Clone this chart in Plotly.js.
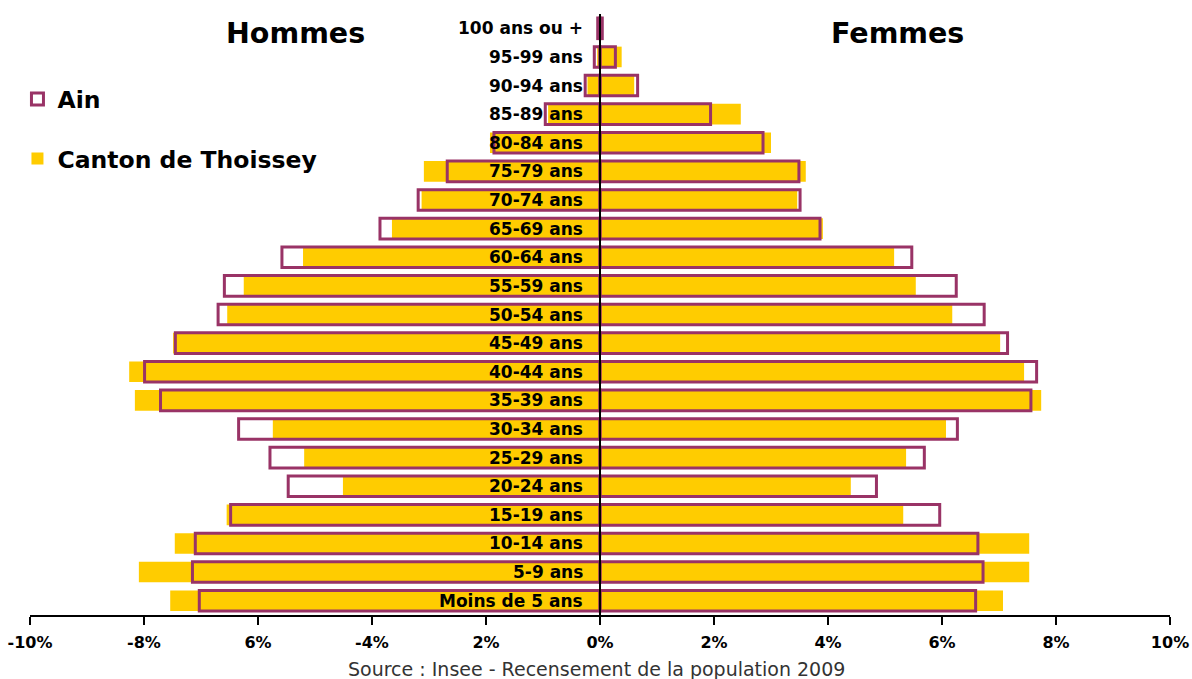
<!DOCTYPE html>
<html>
<head>
<meta charset="utf-8">
<script src="https://cdn.plot.ly/plotly-3.0.1.min.js"></script>
<style>html,body{margin:0;padding:0;background:#fff;}#chart{width:1192px;height:679px;}</style>
</head>
<body>
<div id="chart"></div>
<script>
const categories = ["Moins de 5 ans","5-9 ans","10-14 ans","15-19 ans","20-24 ans","25-29 ans","30-34 ans","35-39 ans","40-44 ans","45-49 ans","50-54 ans","55-59 ans","60-64 ans","65-69 ans","70-74 ans","75-79 ans","80-84 ans","85-89 ans","90-94 ans","95-99 ans","100 ans ou +"];
const ainHommes    = [7.03, 7.15, 7.10, 6.48, 5.47, 5.79, 6.34, 7.71, 7.99, 7.45, 6.70, 6.59, 5.58, 3.86, 3.19, 2.68, 1.86, 0.96, 0.26, 0.10, 0.04];
const cantonHommes = [7.54, 8.09, 7.46, 6.55, 4.51, 5.19, 5.74, 8.16, 8.26, 7.49, 6.54, 6.25, 5.21, 3.65, 3.13, 3.09, 1.93, 0.91, 0.22, 0.05, 0];
const ainFemmes    = [6.59, 6.72, 6.63, 5.96, 4.85, 5.69, 6.27, 7.56, 7.66, 7.15, 6.74, 6.25, 5.47, 3.86, 3.51, 3.49, 2.86, 1.94, 0.66, 0.27, 0.04];
const cantonFemmes = [7.07, 7.53, 7.53, 5.32, 4.40, 5.37, 6.07, 7.74, 7.44, 7.02, 6.18, 5.54, 5.16, 3.91, 3.46, 3.61, 3.00, 2.47, 0.60, 0.38, 0];
const tickValues = [-10, -8, -6, -4, -2, 0, 2, 4, 6, 8, 10];
const tickLabels = ["-10%", "-8%", "6%", "-4%", "2%", "0%", "2%", "4%", "6%", "8%", "10%"];
const seriesNames = ["Ain", "Canton de Thoissey"];
const sideTitles = ["Hommes", "Femmes"];
const sourceText = "Source : Insee - Recensement de la population 2009";

const YELLOW = "#FFCC00";
const PURPLE = "#993366";
const BW = 0.72;

const neg = a => a.map(v => -v);

const traces = [
  {type:"bar", orientation:"h", y:categories, x:neg(cantonHommes), name:seriesNames[1], legendgroup:"c", legendrank:2,
   width:BW, marker:{color:YELLOW, line:{width:0}}, hoverinfo:"skip"},
  {type:"bar", orientation:"h", y:categories, x:cantonFemmes, name:seriesNames[1], legendgroup:"c", showlegend:false,
   width:BW, marker:{color:YELLOW, line:{width:0}}, hoverinfo:"skip"},
  {type:"bar", orientation:"h", y:categories, x:neg(ainHommes), name:seriesNames[0], legendgroup:"a", legendrank:1,
   width:BW, marker:{color:"rgba(0,0,0,0)", line:{width:3, color:PURPLE}}, hoverinfo:"skip"},
  {type:"bar", orientation:"h", y:categories, x:ainFemmes, name:seriesNames[0], legendgroup:"a", showlegend:false,
   width:BW, marker:{color:"rgba(0,0,0,0)", line:{width:3, color:PURPLE}}, hoverinfo:"skip"}
];

const labelFont = {family:"DejaVu Sans", size:17, color:"#000", weight:"bold"};
const annotations = categories.map(c => ({
  x:0, y:c, xref:"x", yref:"y", text:c, showarrow:false, xanchor:"right", yanchor:"middle",
  xshift:-15.5, font:labelFont
}));
annotations.push({x:0.233, y:0.968, xref:"paper", yref:"paper", text:sideTitles[0], showarrow:false,
  xanchor:"center", yanchor:"middle", font:{family:"DejaVu Sans", size:28.5, color:"#000", weight:"bold"}});
annotations.push({x:0.761, y:0.968, xref:"paper", yref:"paper", text:sideTitles[1], showarrow:false,
  xanchor:"center", yanchor:"middle", font:{family:"DejaVu Sans", size:28.5, color:"#000", weight:"bold"}});
annotations.push({x:0.497, y:-0.09, xref:"paper", yref:"paper", text:sourceText, showarrow:false,
  xanchor:"center", yanchor:"middle", font:{family:"DejaVu Sans", size:19, color:"#333"}});

const layout = {
  width:1192, height:679,
  margin:{l:30, r:22, t:14, b:64, autoexpand:false},
  paper_bgcolor:"#fff", plot_bgcolor:"#fff",
  barmode:"overlay",
  showlegend:true,
  legend:{x:-0.011, xanchor:"left", y:0.895, yanchor:"top", bgcolor:"rgba(0,0,0,0)",
    font:{family:"DejaVu Sans", size:23.5, color:"#000", weight:"bold"}, tracegroupgap:26, traceorder:"grouped"},
  xaxis:{range:[-10,10], tickvals:tickValues, ticktext:tickLabels, showgrid:false, zeroline:false,
    showline:true, linecolor:"#000", linewidth:2, ticks:"outside", ticklen:8, tickwidth:1.5, tickcolor:"#000",
    ticklabelstandoff:4, tickfont:{family:"DejaVu Sans", size:16, color:"#000", weight:"bold"}, fixedrange:true},
  yaxis:{type:"category", categoryorder:"array", categoryarray:categories, range:[-0.5, categories.length-0.5],
    showticklabels:false, showgrid:false, zeroline:false, showline:false, ticks:"", fixedrange:true},
  shapes:[{type:"line", xref:"x", yref:"paper", x0:0, x1:0, y0:0, y1:1, layer:"above", line:{color:"#000", width:2}}],
  annotations:annotations
};

Plotly.newPlot("chart", traces, layout, {displayModeBar:false, staticPlot:true});
</script>
</body>
</html>
